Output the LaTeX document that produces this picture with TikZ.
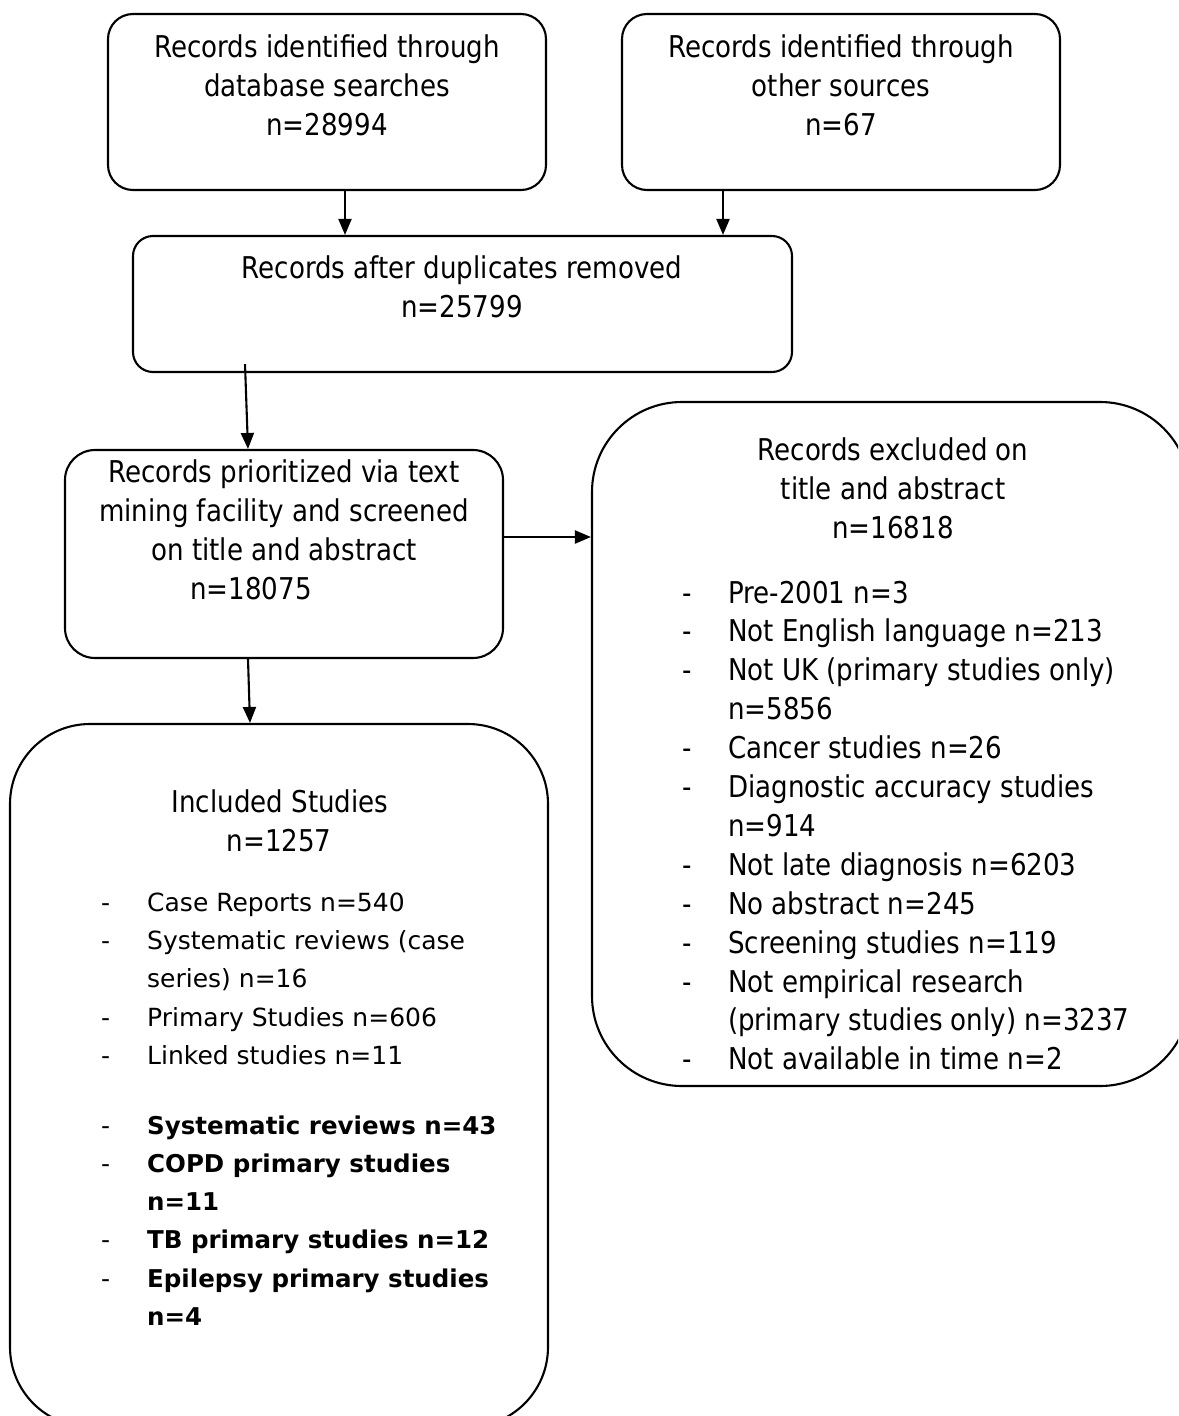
\documentclass[tikz,border=0pt]{standalone}
\usepackage{fontspec}
\setmainfont{DejaVu Sans}
\newfontfamily\tah[FakeStretch=0.87]{DejaVu Sans}
\newfontfamily\ver{DejaVu Sans}
\usetikzlibrary{arrows.meta}
\begin{document}
\begin{tikzpicture}[x=1pt,y=-1pt,
  boxs/.style={draw, line width=2.1pt, inner sep=0pt},
  arr/.style={line width=2.1pt, -{Triangle[length=16pt,width=13pt]}},
  tc/.style={inner sep=0pt, anchor=base, font=\tah\fontsize{30}{39}\selectfont},
  tl/.style={inner sep=0pt, anchor=base west, font=\tah\fontsize{30}{39}\selectfont},
  vl/.style={inner sep=0pt, anchor=base west, font=\ver\fontsize{25}{38}\selectfont},
  vb/.style={inner sep=0pt, anchor=base west, font=\ver\bfseries\fontsize{24.5}{38}\selectfont}]
\useasboundingbox (0,0) rectangle (1178,1416);
\clip (0,0) rectangle (1178,1416);
\fill[white] (0,0) rectangle (1178,1416);
% boxes
\node[boxs, rounded corners=25pt, minimum width=438pt, minimum height=176pt] (b1) at (327,102) {};
\node[boxs, rounded corners=25pt, minimum width=438pt, minimum height=176pt] (b2) at (841,102) {};
\node[boxs, rounded corners=20pt, minimum width=659pt, minimum height=136pt] (b3) at (462.5,304) {};
\node[boxs, rounded corners=30pt, minimum width=438pt, minimum height=208pt] (b4) at (284,554) {};
\node[boxs, rounded corners=90pt, minimum width=598pt, minimum height=684pt] (b5) at (891,744) {};
\node[boxs, rounded corners=80pt, minimum width=538pt, minimum height=703pt] (b6) at (279,1075.5) {};
% box 1
\node[tc] (t1a) at (327,57) {Records identified through};
\node[tc] (t1b) at (327,96) {database searches};
\node[tc] (t1c) at (327,135) {n=28994};
% box 2
\node[tc] (t2a) at (841,57) {Records identified through};
\node[tc] (t2b) at (841,96) {other sources};
\node[tc] (t2c) at (841,135) {n=67};
% box 3
\node[tc] (t3a) at (462,278) {Records after duplicates removed};
\node[tc] (t3b) at (462,317) {n=25799};
% box 4
\node[tc] (t4a) at (284,482) {Records prioritized via text};
\node[tc] (t4b) at (284,521) {mining facility and screened};
\node[tc] (t4c) at (284,560) {on title and abstract};
\node[tl] (t4d) at (190,599) {n=18075};
% box 5
\node[tc] (t5a) at (893,460) {Records excluded on};
\node[tc] (t5b) at (893,499) {title and abstract};
\node[tc] (t5c) at (893,538) {n=16818};
\foreach \i/\txt/\d in {0/Pre-2001 n=3/1, 1/Not English language n=213/1, 2/Not UK (primary studies only)/1, 3/n=5856/0, 4/Cancer studies n=26/1, 5/Diagnostic accuracy studies/1, 6/n=914/0, 7/Not late diagnosis n=6203/1, 8/No abstract n=245/1, 9/Screening studies n=119/1, 10/Not empirical research/1, 11/(primary studies only) n=3237/0, 12/Not available in time n=2/1}{
  \node[tl] (e\i) at (728,603+38.9*\i) {\txt};
  \ifnum\d=1 \node[tl] (ed\i) at (682,603+38.9*\i) {-}; \fi
}
% box 6
\node[tc] (t6a) at (280,812) {Included Studies};
\node[tc] (t6b) at (279,851) {n=1257};
\foreach \i/\txt/\d in {0/Case Reports n=540/1, 1/Systematic reviews (case/1, 2/series) n=16/0, 3/Primary Studies n=606/1, 4/Linked studies n=11/1}{
  \node[vl] (c\i) at (147,911+38.4*\i) {\txt};
  \ifnum\d=1 \node[vl] (cd\i) at (101,911+38.4*\i) {-}; \fi
}
\foreach \i/\txt/\d in {0/Systematic reviews n=43/1, 1/COPD primary studies/1, 2/n=11/0, 3/TB primary studies n=12/1, 4/Epilepsy primary studies/1, 5/n=4/0}{
  \node[vb] (s\i) at (147,1134+38.3*\i) {\txt};
  \ifnum\d=1 \node[vl] (sd\i) at (101,1134+38.3*\i) {-}; \fi
}
% arrows
\draw[arr] ([xshift=18pt]b1.south) -- ([xshift=-117.5pt]b3.north);
\draw[arr] ([xshift=-118pt]b2.south) -- ([xshift=260.5pt]b3.north);
\draw[arr] ([xshift=-217.5pt,yshift=9pt]b3.south) -- ([xshift=-36pt]b4.north);
\draw[arr] ([yshift=17pt]b4.east) -- ([yshift=17pt]b4.east -| b5.west);
\draw[arr] ([xshift=-36pt]b4.south) -- ([xshift=-29pt]b6.north);
\end{tikzpicture}
\end{document}
